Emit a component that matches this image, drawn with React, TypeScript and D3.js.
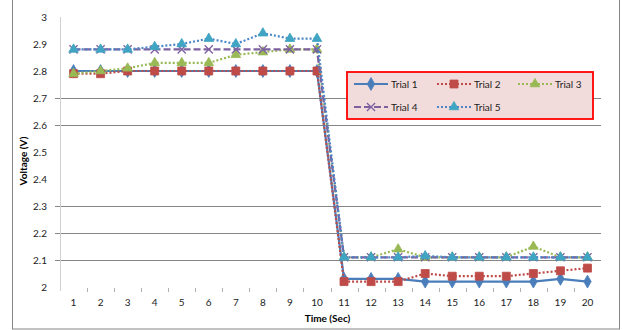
import React, { useEffect, useRef } from 'react';
import * as d3 from 'd3';

const times = ['1', '2', '3', '4', '5', '6', '7', '8', '9', '10', '11', '12', '13', '14', '15', '16', '17', '18', '19', '20'];
const yTicks = [2, 2.1, 2.2, 2.3, 2.4, 2.5, 2.6, 2.7, 2.8, 2.9, 3];
const gridValues = [2.1, 2.2, 2.3, 2.6, 2.7];

const trial1 = [2.8, 2.8, 2.8, 2.8, 2.8, 2.8, 2.8, 2.8, 2.8, 2.8, 2.03, 2.03, 2.03, 2.02, 2.02, 2.02, 2.02, 2.02, 2.03, 2.02];
const trial2 = [2.79, 2.79, 2.8, 2.8, 2.8, 2.8, 2.8, 2.8, 2.8, 2.8, 2.02, 2.02, 2.02, 2.05, 2.04, 2.04, 2.04, 2.05, 2.06, 2.07];
const trial3 = [2.79, 2.8, 2.81, 2.83, 2.83, 2.83, 2.86, 2.87, 2.88, 2.88, 2.11, 2.11, 2.14, 2.11, 2.11, 2.11, 2.11, 2.15, 2.11, 2.11];
const trial4 = [2.88, 2.88, 2.88, 2.88, 2.88, 2.88, 2.88, 2.88, 2.88, 2.88, 2.11, 2.11, 2.11, 2.11, 2.11, 2.11, 2.11, 2.11, 2.11, 2.11];
const trial5 = [2.88, 2.88, 2.88, 2.89, 2.9, 2.92, 2.9, 2.94, 2.92, 2.92, 2.11, 2.11, 2.11, 2.115, 2.11, 2.11, 2.11, 2.11, 2.11, 2.11];

const seriesNames = ['Trial 1', 'Trial 2', 'Trial 3', 'Trial 4', 'Trial 5'];

const App: React.FC = () => {
  const svgRef = useRef<SVGSVGElement>(null);

  useEffect(() => {
    if (!svgRef.current) return;
    const left = 60, right = 601, top = 17, bottom = 287;
    const font = 'Lato, "Open Sans", sans-serif';

    const svg = d3.select(svgRef.current);
    svg.selectAll('*').remove();

    const series = [
      { name: seriesNames[0], values: trial1, line: '#4a7ebb', fill: '#4a7ebb', dash: null, symbol: d3.symbolDiamond, size: 48, stroked: false },
      { name: seriesNames[1], values: trial2, line: '#be4b48', fill: '#be4b48', dash: '2,2', symbol: d3.symbolSquare, size: 64, stroked: false },
      { name: seriesNames[2], values: trial3, line: '#98b954', fill: '#98b954', dash: '2,2', symbol: d3.symbolTriangle, size: 40, stroked: false },
      { name: seriesNames[3], values: trial4, line: '#7d60a0', fill: '#7d60a0', dash: '7,3', symbol: d3.symbolX, size: 45, stroked: true },
      { name: seriesNames[4], values: trial5, line: '#4a86c8', fill: '#3fa5c2', dash: '2,2', symbol: d3.symbolTriangle, size: 40, stroked: false },
    ];

    const x = d3.scaleBand<string>().domain(times).range([left, right]);
    const y = d3.scaleLinear().domain([2, 3]).range([bottom, top]);
    const cx = (t: string) => (x(t) ?? 0) + x.bandwidth() / 2;

    // chart frame
    svg.append('rect')
      .attr('x', 12.5).attr('y', -5)
      .attr('width', 607).attr('height', 334)
      .attr('fill', 'none').attr('stroke', '#868686').attr('stroke-width', 1);

    // gridlines
    svg.selectAll('.grid')
      .data(gridValues)
      .enter()
      .append('line')
      .attr('x1', left - 5).attr('x2', right)
      .attr('y1', d => Math.round(y(d)) + 0.5).attr('y2', d => Math.round(y(d)) + 0.5)
      .attr('stroke', '#868686').attr('stroke-width', 1);

    // y axis
    svg.append('line')
      .attr('x1', left + 0.5).attr('x2', left + 0.5)
      .attr('y1', top).attr('y2', bottom + 4)
      .attr('stroke', '#d0d0d0');

    svg.selectAll('.ylab')
      .data(yTicks)
      .enter()
      .append('text')
      .attr('x', 47)
      .attr('y', d => y(d) + 4)
      .attr('text-anchor', 'end')
      .style('font-family', font)
      .style('font-size', '10px')
      .style('fill', '#222')
      .text(d => d3.format('~g')(d));

    // x axis ticks
    svg.selectAll('.xtick')
      .data(times.slice(1))
      .enter()
      .append('line')
      .attr('x1', d => Math.round(x(d) ?? 0) + 0.5)
      .attr('x2', d => Math.round(x(d) ?? 0) + 0.5)
      .attr('y1', bottom + 1).attr('y2', bottom + 5)
      .attr('stroke', '#b0b0b0');

    svg.selectAll('.xlab')
      .data(times)
      .enter()
      .append('text')
      .attr('x', d => cx(d))
      .attr('y', 306)
      .attr('text-anchor', 'middle')
      .style('font-family', font)
      .style('font-size', '10px')
      .style('fill', '#222')
      .text(d => d);

    // axis titles
    svg.append('text')
      .attr('x', (left + right) / 2 - 3)
      .attr('y', 322)
      .attr('text-anchor', 'middle')
      .style('font-family', font)
      .style('font-size', '10px')
      .style('font-weight', 'bold')
      .text('Time (Sec)');

    svg.append('text')
      .attr('transform', `translate(27, 161) rotate(-90)`)
      .attr('text-anchor', 'middle')
      .style('font-family', font)
      .style('font-size', '10px')
      .style('font-weight', 'bold')
      .text('Voltage (V)');

    const line = d3.line<number>()
      .x((d, i) => cx(times[i]))
      .y(d => y(d));

    const drawMarker = (g: d3.Selection<SVGGElement, unknown, null, undefined>, s: typeof series[0], px: number, py: number) => {
      const p = g.append('path')
        .attr('d', d3.symbol().type(s.symbol).size(s.size)() as string)
        .attr('transform', `translate(${px},${py})`);
      if (s.stroked) {
        p.attr('fill', 'none').attr('stroke', s.fill).attr('stroke-width', 1.3);
      } else {
        p.attr('fill', s.fill).attr('stroke', s.fill).attr('stroke-width', 0.8);
      }
    };

    series.forEach(s => {
      const g = svg.append('g');
      g.append('path')
        .datum(s.values)
        .attr('d', line)
        .attr('fill', 'none')
        .attr('stroke', s.line)
        .attr('stroke-width', 2.2)
        .attr('stroke-dasharray', s.dash);
      s.values.forEach((v, i) => drawMarker(g, s, cx(times[i]), y(v)));
    });

    // legend
    const lg = svg.append('g');
    lg.append('rect')
      .attr('x', 347).attr('y', 72)
      .attr('width', 246).attr('height', 47)
      .attr('fill', '#f2dcdb')
      .attr('stroke', '#ff0000')
      .attr('stroke-width', 1.8);

    const legendPos = [
      { x: 354, y: 84 }, { x: 437, y: 84 }, { x: 518, y: 84 },
      { x: 354, y: 107 }, { x: 437, y: 107 },
    ];
    series.forEach((s, i) => {
      const p = legendPos[i];
      const g = lg.append('g');
      g.append('line')
        .attr('x1', p.x).attr('x2', p.x + 34)
        .attr('y1', p.y).attr('y2', p.y)
        .attr('stroke', s.line)
        .attr('stroke-width', 2.2)
        .attr('stroke-dasharray', s.dash);
      drawMarker(g, s, p.x + 17, p.y);
      g.append('text')
        .attr('x', p.x + 37)
        .attr('y', p.y + 4)
        .style('font-family', font)
        .style('font-size', '10px')
        .style('fill', '#222')
        .text(s.name);
    });
  }, []);

  return (
    <svg
      ref={svgRef}
      width="622"
      height="330"
      style={{ position: 'absolute', left: 0, top: 0, background: '#fff' }}
    />
  );
};

export default App;
